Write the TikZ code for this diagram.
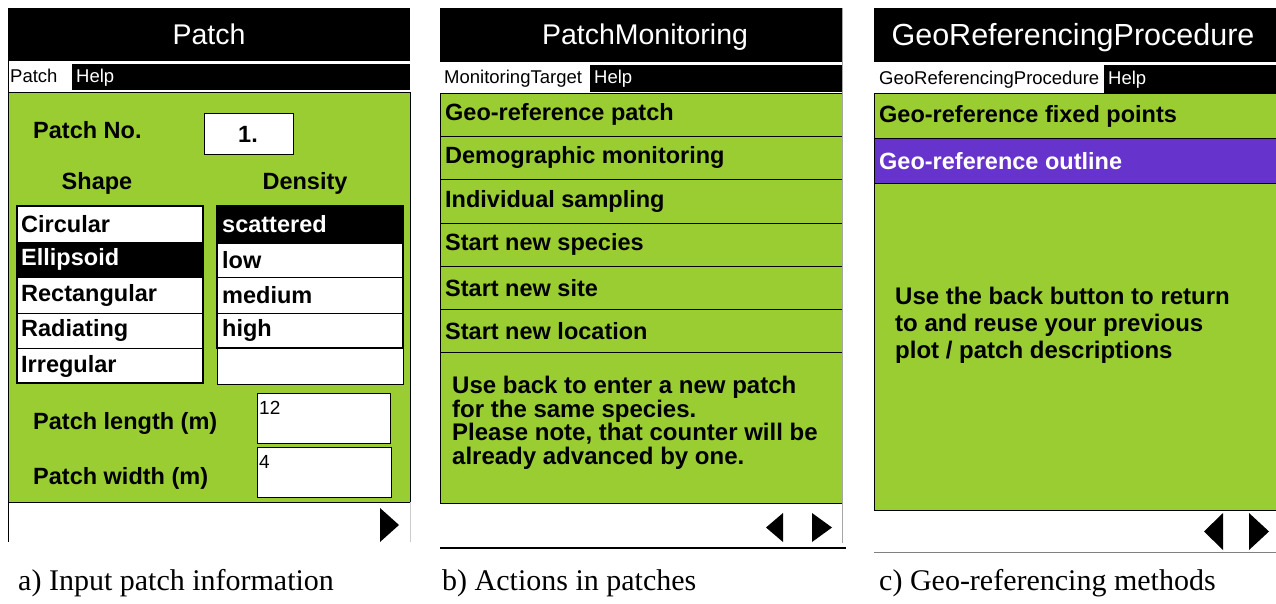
\documentclass[tikz,border=0pt]{standalone}
\usepackage{fontspec}
\setmainfont{Liberation Serif}
\newfontfamily\uifont{Liberation Sans}
\definecolor{screengreen}{RGB}{154,205,50}
\definecolor{selpurple}{RGB}{102,51,204}

\begin{document}
\begin{tikzpicture}[x=1pt,y=-1pt,
  screentitle/.style={anchor=base,text=white,inner sep=0pt,font=\uifont\fontsize{28.5}{28.5}\selectfont},
  menutext/.style={anchor=base west,inner sep=0pt,font=\uifont\fontsize{18.5}{18.5}\selectfont},
  itemtext/.style={anchor=west,inner sep=0pt,font=\uifont\bfseries\fontsize{23.5}{23.5}\selectfont},
  notetext/.style={anchor=north west,inner sep=0pt,align=left},
  fieldtext/.style={anchor=north west,inner sep=1pt,font=\uifont\fontsize{19}{19}\selectfont},
  captiontext/.style={anchor=base west,inner sep=0pt,font=\fontsize{30}{30}\selectfont}]
  \useasboundingbox (0,0) rectangle (1276,604);

  % a) Patch screen
  \fill (8,8) rectangle (410,61);
  \node[screentitle] (titleA) at (209,45) {Patch};
  \fill (8,64) rectangle (410,90);
  \fill[white] (8,64) rectangle (72,90);
  \node[menutext] (menuA) at (10,83) {Patch};
  \node[menutext,text=white] (helpA) at (76,83) {Help};
  \draw[fill=screengreen,thick] (8,92) rectangle (410,502);
  \draw[thick] (8,8) -- (8,542);
  \draw[gray!40] (410,502) -- (410,542);
  \node[itemtext] (patchno) at (33,130) {Patch No.};
  \draw[fill=white] (204,113) rectangle (293,154);
  \node[itemtext,anchor=center] (patchnoval) at (248,134) {1.};
  \node[itemtext,anchor=center] (shapehead) at (97,183) {Shape};
  \node[itemtext,anchor=center] (densityhead) at (305,183) {Density};
  % shape list
  \draw[fill=white] (17,206) rectangle (203,383);
  \fill (17,242) rectangle (203,277);
  \foreach \y in {242,277,313,348} \draw (17,\y) -- (203,\y);
  \draw[very thick] (17,206) rectangle (203,383);
  \node[itemtext] (shape1) at (21,224) {Circular};
  \node[itemtext,text=white] (shape2) at (21,259.5) {Ellipsoid};
  \node[itemtext] (shape3) at (21,295) {Rectangular};
  \node[itemtext] (shape4) at (21,330.5) {Radiating};
  \node[itemtext] (shape5) at (21,366) {Irregular};
  % density list
  \draw[fill=white] (217,206) rectangle (403,384);
  \fill (217,206) rectangle (403,243);
  \foreach \y in {243,277,313,348} \draw (217,\y) -- (403,\y);
  \draw[very thick] (217,206) rectangle (403,348);
  \node[itemtext,text=white] (dens1) at (222,224.5) {scattered};
  \node[itemtext] (dens2) at (222,260) {low};
  \node[itemtext] (dens3) at (222,295) {medium};
  \node[itemtext] (dens4) at (222,330.5) {high};
  % size fields
  \node[itemtext] (lengthlbl) at (33,423) {Patch length (m)};
  \draw[fill=white] (257,393) rectangle (390,443);
  \node[fieldtext] (lengthval) at (258,400) {12};
  \node[itemtext] (widthlbl) at (33,478) {Patch width (m)};
  \draw[fill=white] (257,447) rectangle (391,497);
  \node[fieldtext] (widthval) at (258,454) {4};
  \fill (380,508) -- (380,542) -- (399,525) -- cycle;
  \node[captiontext] (capA) at (18,590) {a) Input patch information};

  % b) PatchMonitoring screen
  \fill (440,8) rectangle (842,62);
  \node[screentitle] (titleB) at (645,45) {PatchMonitoring};
  \fill (440,65) rectangle (842,92);
  \fill[white] (440,65) rectangle (590,92);
  \node[menutext] (menuB) at (444,84) {MonitoringTarget};
  \node[menutext,text=white] (helpB) at (594,84) {Help};
  \draw[fill=screengreen,thick] (440,93) rectangle (842,503);
  \foreach \t [count=\i] in {Geo-reference patch,Demographic monitoring,Individual sampling,Start new species,Start new site,Start new location}{
    \draw[thick] (440,{93+43.3*\i}) -- (842,{93+43.3*\i});
    \node[itemtext] (action\i) at (445,{93+43.3*(\i-0.5)}) {\t};
  }
  \node[notetext,font=\uifont\bfseries\fontsize{24}{23.5}\selectfont] (noteB) at (452,376)
    {Use back to enter a new patch\\for the same species.\\Please note, that counter will be\\already advanced by one.};
  \draw[gray!70,thick] (842,8) -- (842,543);
  \fill (783,513) -- (783,542) -- (766,527.5) -- cycle;
  \fill (812,513) -- (812,542) -- (832,527.5) -- cycle;
  \draw[line width=2pt] (440,548) -- (846,548);
  \node[captiontext] (capB) at (442,590) {b) Actions in patches};

  % c) GeoReferencingProcedure screen
  \fill (874,8) rectangle (1276,62);
  \node[screentitle,font=\uifont\fontsize{30.5}{30.5}\selectfont] (titleC) at (1073,46) {GeoReferencingProcedure};
  \fill (874,65) rectangle (1276,93);
  \fill[white] (874,65) rectangle (1104,93);
  \node[menutext] (menuC) at (879,85) {GeoReferencingProcedure};
  \node[menutext,text=white] (helpC) at (1108,85) {Help};
  \draw[fill=screengreen,thick] (874,93) rectangle (1278,510);
  \draw[fill=selpurple,thick] (874,138) rectangle (1278,183);
  \node[itemtext] (method1) at (879,116) {Geo-reference fixed points};
  \node[itemtext,text=white] (method2) at (879,161) {Geo-reference outline};
  \node[notetext,font=\uifont\bfseries\fontsize{24}{27}\selectfont] (noteC) at (895,287)
    {Use the back button to return\\to and reuse your previous\\plot / patch descriptions};
  \fill (1223,513) -- (1223,550) -- (1204,531.5) -- cycle;
  \fill (1249,513) -- (1249,550) -- (1269,531.5) -- cycle;
  \draw[gray,thick] (874,552) -- (1276,552);
  \node[captiontext] (capC) at (879,590) {c) Geo-referencing methods};
\end{tikzpicture}
\end{document}
